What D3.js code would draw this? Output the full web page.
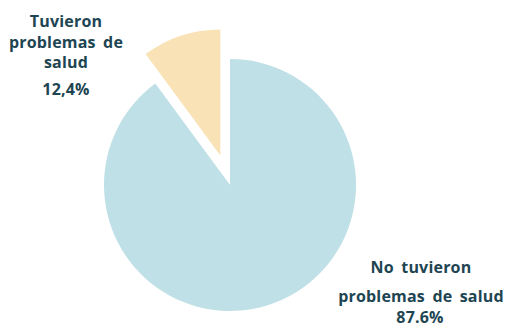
<!DOCTYPE html>
<html>
<head>
<meta charset="utf-8">
<script src="https://cdn.jsdelivr.net/npm/d3@7"></script>
<style>
  body { margin: 0; background: #fff; }
  svg { display: block; }
  .lbl { font-family: "Open Sans", Lato, sans-serif; font-weight: 700; fill: #1e4552; font-size: 16px; letter-spacing: 0.2px; word-spacing: 3px; }
</style>
</head>
<body>
<div id="chart"></div>
<script>
// categorías y valores
const categories = ["Tuvieron problemas de salud", "No tuvieron problemas de salud"];
const percentLabels = ["12,4%", "87.6%"];
// proporción de cada sector tal como aparece dibujado en la imagen
const sliceShares = [10.1, 89.9];
const sliceColors = ["#f9e3b6", "#bfe0e6"];
const labelLines = [["Tuvieron", "problemas de", "salud"], ["No tuvieron", "problemas de salud"]];

const width = 505, height = 327;
const cx = 230, cy = 185, radius = 126;
const explode = 31;

const svg = d3.select("#chart").append("svg")
    .attr("width", width)
    .attr("height", height);

const pie = d3.pie()
    .sort(null)
    .value(d => d.share)
    .startAngle(-2 * Math.PI * sliceShares[0] / 100)
    .endAngle(2 * Math.PI - 2 * Math.PI * sliceShares[0] / 100);

const data = categories.map((c, i) => ({ name: c, share: sliceShares[i], color: sliceColors[i] }));
const arcs = pie(data);
const arc = d3.arc().innerRadius(0).outerRadius(radius);

const g = svg.append("g").attr("transform", `translate(${cx},${cy})`);

g.selectAll("path")
    .data(arcs)
    .join("path")
    .attr("d", arc)
    .attr("fill", d => d.data.color)
    .attr("transform", (d, i) => {
        if (i !== 0) return null; // solo el sector pequeño sale
        const mid = (d.startAngle + d.endAngle) / 2;
        return `translate(${Math.sin(mid) * explode},${-Math.cos(mid) * explode})`;
    });

// etiqueta izquierda
const left = svg.append("text").attr("class", "lbl")
    .attr("text-anchor", "middle");
labelLines[0].forEach((t, i) => {
    left.append("tspan").attr("x", 66).attr("y", 27 + i * 20.5).text(t);
});
svg.append("text").attr("class", "lbl")
    .attr("text-anchor", "middle")
    .attr("x", 66).attr("y", 95)
    .text(percentLabels[0]);

// etiqueta derecha
const right = svg.append("text").attr("class", "lbl")
    .attr("text-anchor", "middle");
labelLines[1].forEach((t, i) => {
    right.append("tspan").attr("x", 421).attr("y", 273 + i * 29).text(t);
});
svg.append("text").attr("class", "lbl")
    .attr("text-anchor", "middle")
    .attr("x", 420).attr("y", 323)
    .text(percentLabels[1]);
</script>
</body>
</html>
